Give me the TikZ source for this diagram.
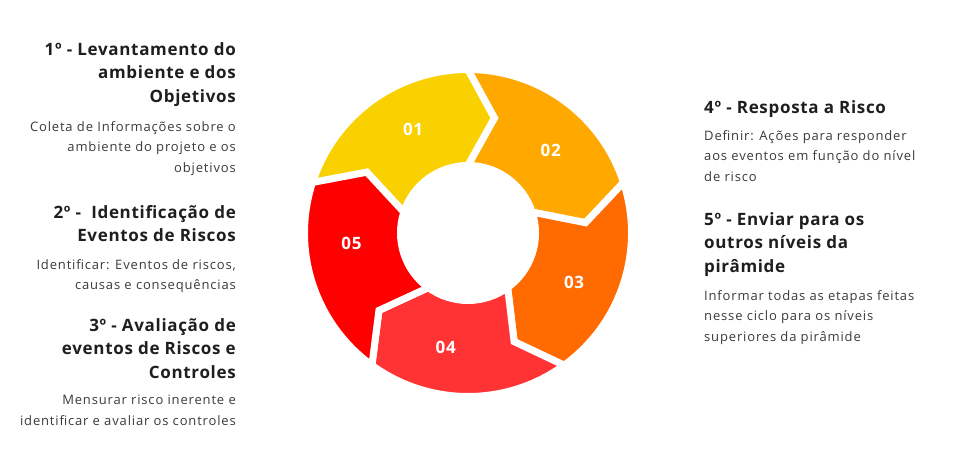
\documentclass[tikz,border=0pt]{standalone}
\usepackage{fontspec}
\setmainfont{Open Sans}
\newfontfamily\headfont[LetterSpace=4]{Open Sans}
\newfontfamily\bodyfont[LetterSpace=6.5]{Open Sans}
\usetikzlibrary{positioning}

\definecolor{stepA}{HTML}{F9D100}
\definecolor{stepB}{HTML}{FFA800}
\definecolor{stepC}{HTML}{FF6B00}
\definecolor{stepD}{HTML}{FF3333}
\definecolor{stepE}{HTML}{FF0000}
\definecolor{headtext}{HTML}{1E1E1E}
\definecolor{bodytext}{HTML}{3A3A3A}

\begin{document}
\begin{tikzpicture}[x=1pt, y=1pt,
        segment/.style={draw=white, line width=7pt},
        num/.style={text=white, font=\headfont\fontsize{17}{17}\selectfont\bfseries},
        headL/.style={anchor=north east, align=right, inner sep=0pt, text=headtext, font=\headfont\fontsize{17}{23.5}\selectfont\bfseries},
        bodyL/.style={anchor=north east, align=right, inner sep=0pt, text=bodytext, font=\bodyfont\fontsize{13}{20.5}\selectfont},
        headR/.style={anchor=north west, align=left, inner sep=0pt, text=headtext, font=\headfont\fontsize{17}{23.5}\selectfont\bfseries},
        bodyR/.style={anchor=north west, align=left, inner sep=0pt, text=bodytext, font=\bodyfont\fontsize{13}{20.5}\selectfont}
    ]
        \useasboundingbox (0,0) rectangle (979,460);

        % Cycle
        \begin{scope}[shift={(468,227)}]
            \foreach \a/\col/\lab/\la in {162/stepA/01/118, 90/stepB/02/45, 18/stepC/03/-25, -54/stepD/04/-101, -126/stepE/05/185} {
                \pgfmathsetmacro{\b}{\a-72}
                \draw[segment, fill=\col] (\a:163.5) arc[start angle=\a, end angle=\b, radius=163.5]
                    -- (\b-13:118) -- (\b:67.5) arc[start angle=\b, end angle=\a, radius=67.5]
                    -- (\a-13:118) -- cycle;
                \node[num] (n\lab) at (\la:117) {\lab};
            }
        \end{scope}

        % Left side
        \node[headL] (h1) at (236,418) {1º - Levantamento do\\ambiente e dos\\Objetivos};
        \node[bodyL] (b1) at (236,339) {Coleta de Informações sobre o\\ambiente do projeto e os\\objetivos};
        \node[headL] (h2) at (236,255) {2º -\ \ Identificação de\\Eventos de Riscos\ };
        \node[bodyL] (b2) at (236,201) {Identificar: Eventos de riscos,\\causas e consequências};
        \node[headL] (h3) at (236,142) {3º - Avaliação de\\eventos de Riscos e\\Controles\ };
        \node[bodyL] (b3) at (236,65) {Mensurar risco inerente e\\identificar e avaliar os controles};

        % Right side
        \node[headR] (h4) at (704,360) {4º - Resposta a Risco};
        \node[bodyR] (b4) at (704,330) {Definir: Ações para responder\\aos eventos em função do nível\\de risco};
        \node[headR] (h5) at (704,248) {5º - Enviar para os\\outros níveis da\\pirâmide};
        \node[bodyR] (b5) at (704,170) {Informar todas as etapas feitas\\nesse ciclo para os níveis\\superiores da pirâmide};

    \end{tikzpicture}
\end{document}
